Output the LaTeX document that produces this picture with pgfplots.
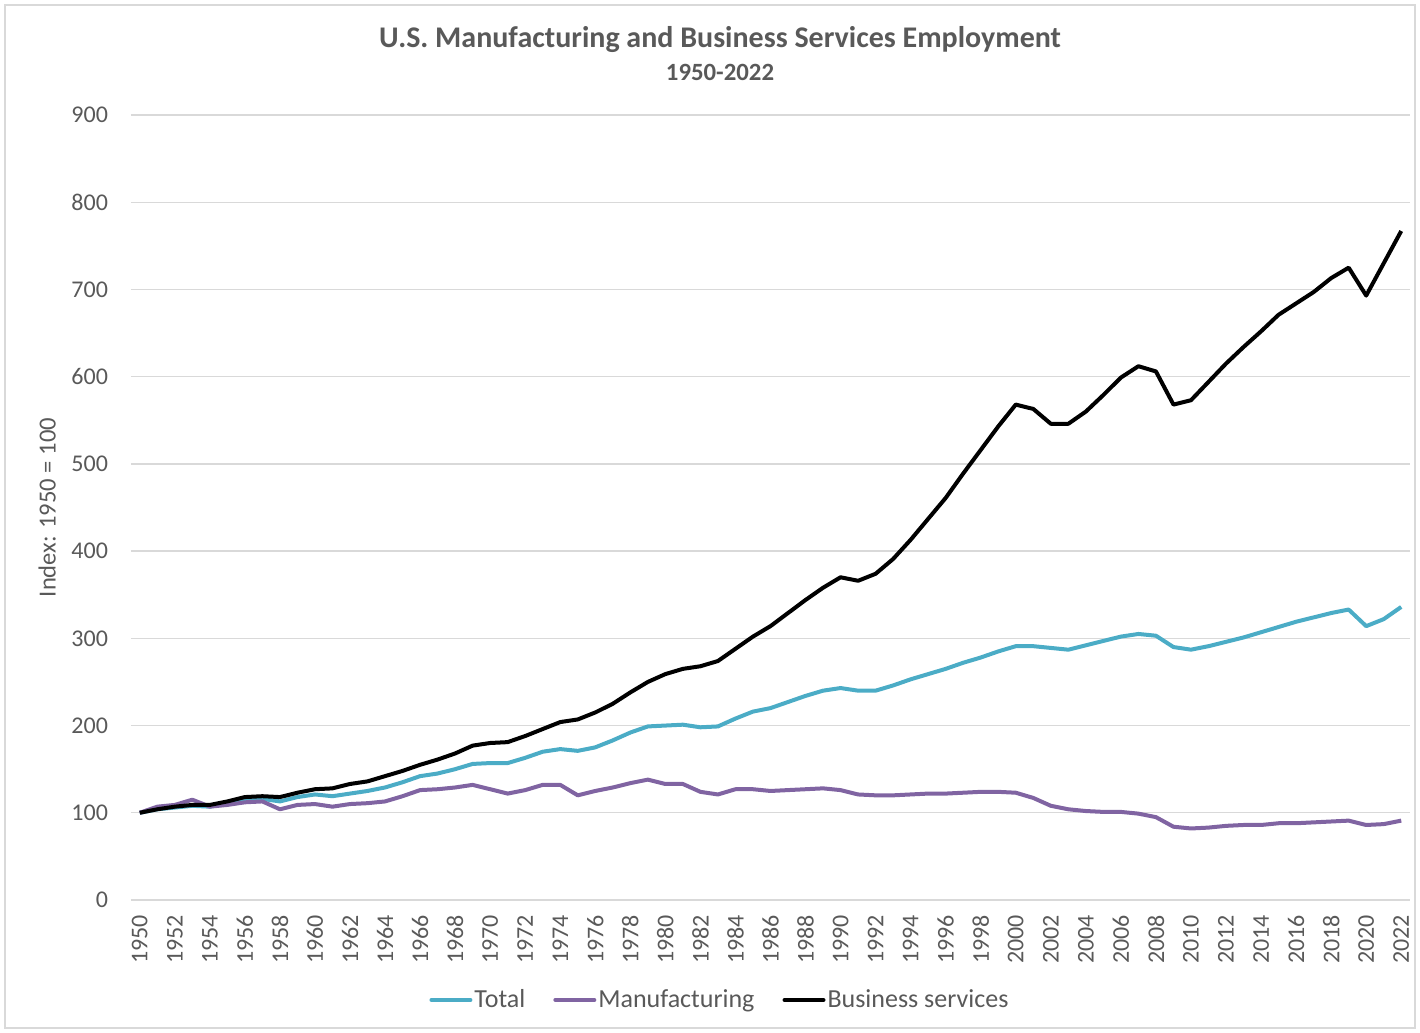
\documentclass[border=0pt]{standalone}
\usepackage{fontspec}
\setmainfont{Carlito}
\usepackage{pgfplots}
\usepackage{pgfplotstable}
\pgfplotsset{compat=1.18}
\definecolor{txtgray}{HTML}{595959}
\definecolor{gridgray}{HTML}{D9D9D9}
\definecolor{totalteal}{HTML}{4BACC6}
\definecolor{manpurple}{HTML}{8064A2}

\pgfplotstableread{
year total manuf bus
1950 100 100 100
1951 104 107 104
1952 106 109 107
1953 108 115 109
1954 107 107 109
1955 111 109 113
1956 115 112 118
1957 116 113 119
1958 113 104 118
1959 118 109 123
1960 121 110 127
1961 119 107 128
1962 122 110 133
1963 125 111 136
1964 129 113 142
1965 135 119 148
1966 142 126 155
1967 145 127 161
1968 150 129 168
1969 156 132 177
1970 157 127 180
1971 157 122 181
1972 163 126 188
1973 170 132 196
1974 173 132 204
1975 171 120 207
1976 175 125 215
1977 183 129 225
1978 192 134 238
1979 199 138 250
1980 200 133 259
1981 201 133 265
1982 198 124 268
1983 199 121 274
1984 208 127 288
1985 216 127 302
1986 220 125 314
1987 227 126 329
1988 234 127 344
1989 240 128 358
1990 243 126 370
1991 240 121 366
1992 240 120 374
1993 246 120 391
1994 253 121 413
1995 259 122 437
1996 265 122 461
1997 272 123 489
1998 278 124 516
1999 285 124 543
2000 291 123 568
2001 291 117 563
2002 289 108 546
2003 287 104 546
2004 292 102 560
2005 297 101 579
2006 302 101 599
2007 305 99 612
2008 303 95 606
2009 290 84 568
2010 287 82 573
2011 291 83 594
2012 296 85 615
2013 301 86 634
2014 307 86 652
2015 313 88 671
2016 319 88 684
2017 324 89 697
2018 329 90 713
2019 333 91 725
2020 314 86 693
2021 322 87 730
2022 336 91 767
}\emp

\begin{document}
\begin{tikzpicture}
% page frame (1 px = 0.5pt, plot origin at px 131,900)
\path (-65.5pt,-66.5pt) rectangle (644.5pt,450pt);
\draw[gridgray, line width=0.6pt] (-63pt,-64pt) rectangle (642pt,447.5pt);
\begin{axis}[
    at={(0pt,0pt)}, anchor=south west,
    scale only axis,
    width=639.5pt, height=392.5pt,
    xmin=1949.5, xmax=2022.5,
    ymin=0, ymax=900,
    xtick={1950,1952,...,2022},
    ytick={0,100,...,900},
    axis line style={draw=none},
    major tick length=0pt,
    ymajorgrids=true,
    grid style={gridgray, line width=0.7pt},
    /pgf/number format/assume math mode=true,
    /pgf/number format/1000 sep={},
    tick label style={font=\fontsize{12}{14}\selectfont, text=txtgray},
    x tick label style={rotate=90, anchor=east, xshift=-4pt},
    y tick label style={xshift=-8pt},
    ylabel={Index: 1950 = 100},
    ylabel style={font=\fontsize{12.3}{14}\selectfont, text=txtgray, yshift=1pt},
    legend style={at={(0.4605,-0.1274)}, anchor=center, draw=none, fill=none,
        legend columns=-1, font=\fontsize{13}{15}\selectfont, text=txtgray,
        /tikz/every even column/.append style={column sep=13pt},
        nodes={inner sep=1pt}},
    legend image code/.code={\draw[#1, line cap=round] (0pt,0pt) -- (19.5pt,0pt);},
    line join=round,
]
\addplot[totalteal, line width=2pt] table[x=year, y=total] {\emp};
\addlegendentry{Total}
\addplot[manpurple, line width=2pt] table[x=year, y=manuf] {\emp};
\addlegendentry{Manufacturing}
\addplot[black, line width=2pt] table[x=year, y=bus] {\emp};
\addlegendentry{Business services}
\end{axis}
\node[text=txtgray, font=\fontsize{15}{18}\selectfont\bfseries] at (294.5pt,430pt) {U.S. Manufacturing and Business Services Employment};
\node[text=txtgray, font=\fontsize{12.4}{14}\selectfont\bfseries] at (294.5pt,414pt) {1950-2022};
\end{tikzpicture}
\end{document}
